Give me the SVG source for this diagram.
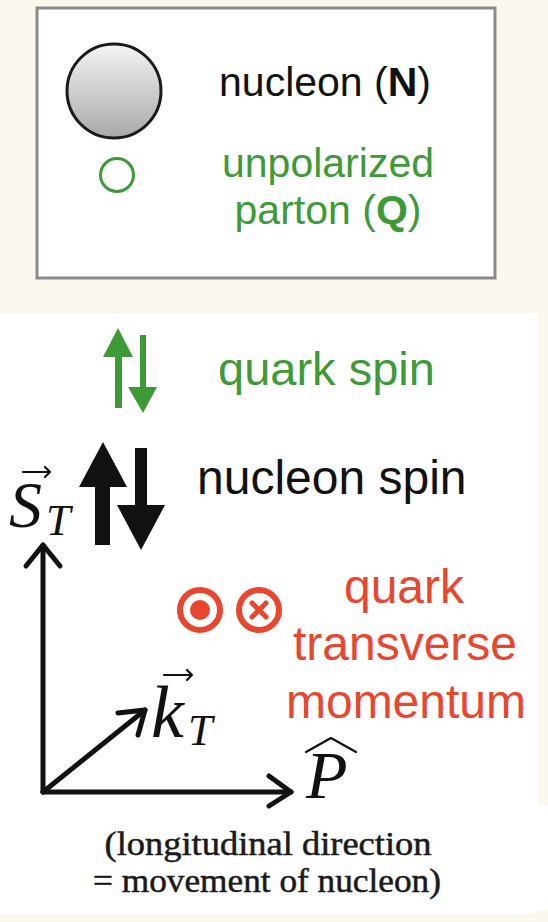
<svg xmlns="http://www.w3.org/2000/svg" width="548" height="922" viewBox="0 0 548 922">
<defs>
<linearGradient id="ng" x1="0" y1="0" x2="0" y2="1">
<stop offset="0" stop-color="#f4f4f4"/>
<stop offset="1" stop-color="#a9a9a9"/>
</linearGradient>
<style>
.sans{font-family:"Liberation Sans",Arial,sans-serif}
.blk{fill:#111}
.grn{fill:#3e9a36}
.red{fill:#e8462f}
.math{font-family:"Liberation Serif","Times New Roman",serif;font-style:italic;fill:#111}
.axis{stroke:#111;stroke-width:5;fill:none;stroke-linecap:round;stroke-linejoin:round}
.acc{stroke:#111;stroke-width:2.2;fill:none;stroke-linecap:round;stroke-linejoin:round}
.note{font-family:"Liberation Serif","Times New Roman",serif;font-size:33px;fill:#1a1a1a;stroke:#1a1a1a;stroke-width:0.5;text-anchor:middle}
</style>
</defs>
<rect x="0" y="0" width="548" height="922" fill="#fdf8ef"/>
<rect x="0" y="313" width="538" height="600" fill="#ffffff"/>
<rect x="0" y="805" width="548" height="105" fill="#ffffff"/>

<g id="legend">
<rect x="37" y="8" width="458" height="270" fill="#ffffff" stroke="#8a8a8a" stroke-width="3"/>
<g id="nucleon">
<circle cx="114" cy="91" r="47" fill="url(#ng)" stroke="#1a1a1a" stroke-width="3"/>
<text class="sans blk" x="325" y="96" font-size="41" text-anchor="middle">nucleon (<tspan font-weight="bold">N</tspan>)</text>
</g>
<g id="parton">
<circle cx="117" cy="175" r="16.5" fill="none" stroke="#3e9a36" stroke-width="3"/>
<text class="sans grn" x="328" y="177" font-size="41" text-anchor="middle">unpolarized</text>
<text class="sans grn" x="328" y="224" font-size="41" text-anchor="middle">parton (<tspan font-weight="bold">Q</tspan>)</text>
</g>
</g>

<g id="quark-spin">
<path class="grn" d="M118,328 L133,357 L122,357 L122,408 L115,408 L115,357 L103,357 Z"/>
<path class="grn" d="M143,413 L157,387 L146,387 L146,335 L140,335 L140,387 L128,387 Z"/>
<text class="sans grn" x="218" y="385" font-size="47">quark spin</text>
</g>

<g id="nucleon-spin">
<path class="blk" d="M103,442 L127,487 L110,487 L110,545 L95,545 L95,487 L79,487 Z"/>
<path class="blk" d="M141,550 L165,505 L147,505 L147,448 L135,448 L135,505 L117,505 Z"/>
<text class="sans blk" x="197" y="494" font-size="48">nucleon spin</text>
</g>

<g id="transverse-momentum">
<circle cx="200" cy="610" r="20" fill="none" stroke="#e8462f" stroke-width="6"/>
<circle cx="200" cy="610" r="10" fill="#e8462f"/>
<circle cx="259" cy="610" r="20" fill="none" stroke="#e8462f" stroke-width="6"/>
<path d="M252,603 L266,617 M266,603 L252,617" stroke="#e8462f" stroke-width="5" stroke-linecap="round"/>
<text class="sans red" font-size="48" text-anchor="middle"><tspan x="404" y="603">quark</tspan><tspan x="405" y="660">transverse</tspan><tspan x="406" y="718">momentum</tspan></text>
</g>

<g id="connectors">
<path class="axis" d="M43,792 L43,545"/>
<path class="axis" d="M26,566 L43,545 L60,566"/>
<path class="axis" d="M43,792 L291,792"/>
<path class="axis" d="M269,776 L291,792 L269,806"/>
<path class="axis" d="M43,792 L145,710"/>
<path class="axis" d="M118,713 L145,710 L138,735"/>
</g>

<g id="label-ST">
<text class="math" x="9" y="527" font-size="66">S</text>
<text class="math" x="46" y="535" font-size="44">T</text>
<path class="acc" d="M23,472 L50,472 M45,467 L50,472 L45,477"/>
</g>
<g id="label-kT">
<text class="math" x="151" y="737" font-size="74">k</text>
<text class="math" x="188" y="745" font-size="44">T</text>
<path class="acc" d="M164,675 L192,675 M187,670 L192,675 L187,680"/>
</g>
<g id="label-P">
<text class="math" x="306" y="798" font-size="68">P</text>
<path class="acc" d="M306,752 L331,738 L356,752"/>
</g>

<g id="note">
<text class="note" x="268" y="855" textLength="327" lengthAdjust="spacingAndGlyphs">(longitudinal direction</text>
<text class="note" x="267" y="892" textLength="348" lengthAdjust="spacingAndGlyphs">= movement of nucleon)</text>
</g>
</svg>
